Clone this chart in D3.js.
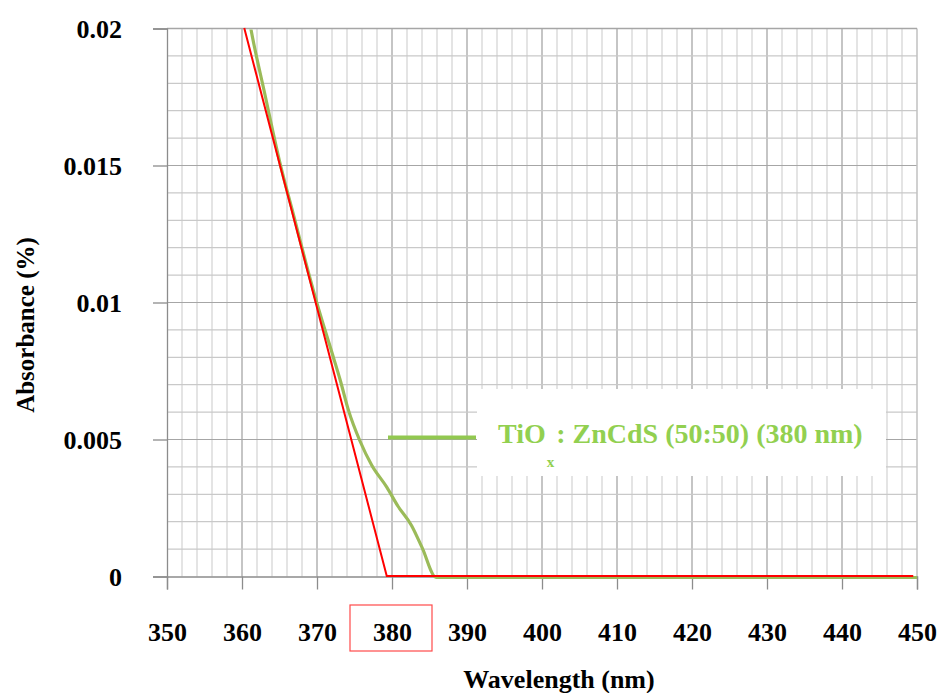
<!DOCTYPE html>
<html>
<head>
<meta charset="utf-8">
<script src="https://cdn.jsdelivr.net/npm/d3@7"></script>
<style>
  html, body { margin: 0; padding: 0; background: #fff; }
  svg { display: block; }
  svg text { font-family: "Liberation Serif", "DejaVu Serif", "Noto Serif", serif !important; font-weight: bold; }
</style>
</head>
<body>
<script>
// Absorbance spectrum, TiOx : ZnCdS (50:50)
const wavelength = [361.0, 361.2, 363.0, 365.0, 367.0, 368.5, 370.0, 372.0, 373.1, 374.2, 375.7, 377.3, 379.3, 380.8, 382.6, 384.0, 385.9, 390, 400, 410, 420, 430, 440, 450];
const absorbance = [0.0203, 0.0200, 0.0177, 0.0152, 0.0131, 0.0115, 0.0100, 0.0082, 0.0072, 0.0061, 0.0050, 0.0041, 0.0033, 0.0026, 0.0019, 0.0011, 0.0000, 0, 0, 0, 0, 0, 0, 0];

// Tangent used to extrapolate the absorption edge
const edgeWavelength = [360.3, 379.3, 449.5];
const edgeAbsorbance = [0.02, 0, 0];

const xTicks = [350, 360, 370, 380, 390, 400, 410, 420, 430, 440, 450];
const yTicks = [0, 0.005, 0.01, 0.015, 0.02];
const yTickLabels = ["0", "0.005", "0.01", "0.015", "0.02"];
const seriesName = ["TiO", "x", " : ZnCdS (50:50) (380 nm)"];
const highlightedTick = 380;

const W = 941, H = 693;
const plotL = 167, plotR = 917, plotT = 28.5, plotB = 576.5;
const FONT = "'Liberation Serif', 'DejaVu Serif', 'Noto Serif', serif";

const svg = d3.select("body").append("svg").attr("width", W).attr("height", H);

const x = d3.scaleLinear().domain([350, 450]).range([plotL, plotR]);
const y = d3.scaleLinear().domain([0, 0.02]).range([plotB, plotT]);

// Grid: minor every 2 nm / 0.001, major every 10 nm / 0.005
const grid = svg.append("g");
d3.range(352, 450, 2).forEach(v => {
  const major = v % 10 === 0;
  grid.append("line")
    .attr("x1", x(v)).attr("x2", x(v)).attr("y1", plotT).attr("y2", plotB)
    .attr("stroke", major ? "#a6a6a6" : "#d2d2d2").attr("stroke-width", major ? 1.3 : 1.2);
});
d3.range(1, 20).forEach(i => {
  const v = i * 0.001;
  const major = i % 5 === 0;
  grid.append("line")
    .attr("x1", plotL).attr("x2", plotR).attr("y1", y(v)).attr("y2", y(v))
    .attr("stroke", major ? "#a6a6a6" : "#c9c9c9").attr("stroke-width", 1.2);
});
// plot borders
grid.append("line").attr("x1", plotR).attr("x2", plotR).attr("y1", plotT).attr("y2", plotB)
  .attr("stroke", "#c0c0c0").attr("stroke-width", 1.5);
grid.append("line").attr("x1", plotL).attr("x2", plotR).attr("y1", plotT).attr("y2", plotT)
  .attr("stroke", "#a6a6a6").attr("stroke-width", 1.3);

// Axes
const xAxis = d3.axisBottom(x).tickValues(xTicks).tickSize(13).tickFormat(d3.format("d"));
const gx = svg.append("g").attr("transform", `translate(0,${plotB})`).call(xAxis)
  .attr("font-family", FONT).attr("font-size", 26);
gx.select(".domain").attr("stroke", "#8c8c8c").attr("stroke-width", 1.3);
gx.selectAll(".tick line").attr("stroke", "#8c8c8c").attr("stroke-width", 1.3);
gx.selectAll(".tick text")
  .attr("y", 64.5).attr("dy", null)
  .attr("font-size", 26).attr("fill", "#000").attr("font-weight", "bold");

const yAxis = d3.axisLeft(y).tickValues(yTicks).tickSize(14).tickFormat((d, i) => yTickLabels[i]);
const gy = svg.append("g").attr("transform", `translate(${plotL},0)`).call(yAxis)
  .attr("font-family", FONT).attr("font-size", 26);
gy.select(".domain").attr("stroke", "#8c8c8c").attr("stroke-width", 1.3);
gy.selectAll(".tick line").attr("stroke", "#8c8c8c").attr("stroke-width", 1.3);
gy.selectAll(".tick text")
  .attr("x", -45).attr("dy", 9)
  .attr("font-size", 26).attr("fill", "#000").attr("font-weight", "bold");

// Box around the band-edge wavelength label
svg.append("rect")
  .attr("x", x(highlightedTick) - 42).attr("y", 605)
  .attr("width", 82).attr("height", 46)
  .attr("fill", "none").attr("stroke", "#ff4a4a").attr("stroke-width", 1.2);

// Curves
svg.append("clipPath").attr("id", "plotClip").append("rect")
  .attr("x", plotL).attr("y", plotT).attr("width", plotR - plotL).attr("height", plotB - plotT + 4);

const spectrum = wavelength.map((w, i) => [w, absorbance[i]]);
const edge = edgeWavelength.map((w, i) => [w, edgeAbsorbance[i]]);

svg.append("path")
  .datum(spectrum)
  .attr("clip-path", "url(#plotClip)")
  .attr("d", d3.line().x(d => x(d[0])).y(d => y(d[1])).curve(d3.curveMonotoneX))
  .attr("fill", "none").attr("stroke", "#9bbb59").attr("stroke-width", 3.2)
  .attr("transform", "translate(0,1)");

svg.append("path")
  .datum(edge)
  .attr("d", d3.line().x(d => x(d[0])).y(d => y(d[1])))
  .attr("fill", "none").attr("stroke", "#ff0000").attr("stroke-width", 2)
  .attr("transform", "translate(0,-0.5)");

// Legend
const lg = svg.append("g");
lg.append("rect").attr("x", 477).attr("y", 389).attr("width", 409).attr("height", 87).attr("fill", "#fff");
lg.append("line").attr("x1", 388).attr("x2", 476).attr("y1", 437.5).attr("y2", 437.5)
  .attr("stroke", "#92c850").attr("stroke-width", 4);
const lt = lg.append("text").attr("x", 498).attr("y", 443)
  .attr("font-family", FONT).attr("font-weight", "bold")
  .attr("font-size", 28).attr("fill", "#92d050");
lt.append("tspan").text(seriesName[0]);
lt.append("tspan").attr("dy", 24).attr("dx", 1).attr("font-size", 15).text(seriesName[1]);
lt.append("tspan").attr("dy", -24).attr("dx", -5).text(seriesName[2]);

// Axis titles
svg.append("text")
  .attr("x", 559).attr("y", 688)
  .attr("font-family", FONT).attr("font-weight", "bold")
  .attr("text-anchor", "middle").attr("font-size", 26).attr("fill", "#000")
  .text("Wavelength (nm)");

svg.append("text")
  .attr("transform", "translate(34,325) rotate(-90)")
  .attr("font-family", FONT).attr("font-weight", "bold")
  .attr("text-anchor", "middle").attr("font-size", 25).attr("fill", "#000")
  .text("Absorbance (%)");
</script>
</body>
</html>
